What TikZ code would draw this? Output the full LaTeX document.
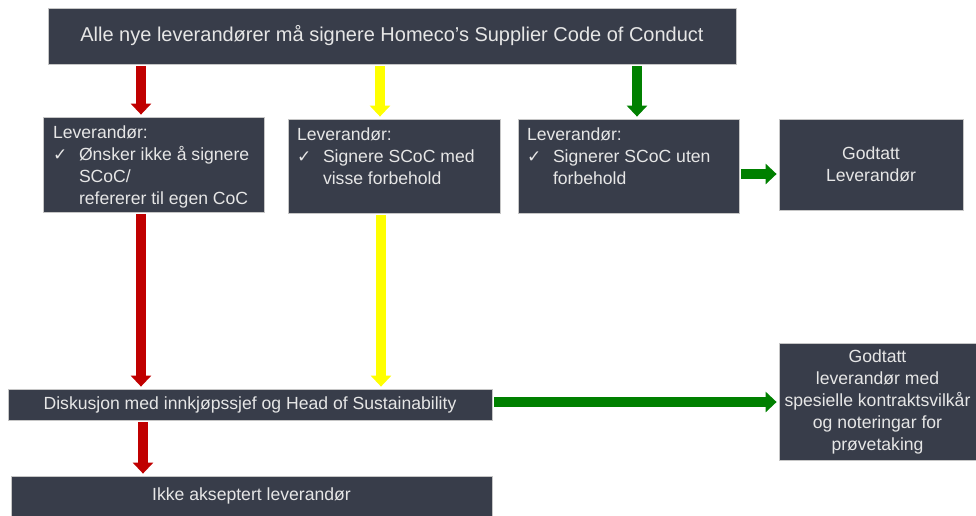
\documentclass[tikz,border=0pt]{standalone}
\usepackage{fontspec}
\setmainfont{Liberation Sans}
\newfontfamily\checkfont{DejaVu Sans}
\usetikzlibrary{arrows.meta,positioning}
\definecolor{boxfill}{RGB}{56,61,74}
\definecolor{boxtext}{RGB}{230,230,230}
\definecolor{redarrow}{RGB}{192,0,0}
\definecolor{yellowarrow}{RGB}{255,255,0}
\definecolor{greenarrow}{RGB}{0,128,0}
\newcommand{\chk}{\makebox[26pt][l]{\checkfont\fontsize{17}{22}\selectfont ✓}}
\newcommand{\ind}{\hspace*{26pt}}
\begin{document}
\begin{tikzpicture}[x=1pt,y=-1pt,
  box/.style={draw=gray!45, line width=0.8pt, fill=boxfill, text=boxtext,
    font=\fontsize{17.6}{22}\selectfont, inner sep=0pt, align=center},
  flow/.style={line width=10pt, shorten <=2pt, shorten >=2pt,
    -{Triangle[width=20pt,length=11pt]}}]
\useasboundingbox (0,0) rectangle (976,515);
% boxes
\node(top) at (392,36) [box, minimum width=688pt, minimum height=56pt,
  font=\fontsize{20}{24}\selectfont]{Alle nye leverandører må signere Homeco’s Supplier Code of Conduct};
\node(b1) at (153.5,164.5) [box, inner xsep=10pt, inner ysep=9pt]{\parbox[t][77pt][t]{201pt}{\raggedright
  Leverandør:\\ \chk Ønsker ikke å signere\\ \ind SCoC/\\ \ind refererer til egen CoC}};
\node(b2) at (394,166) [box, inner xsep=9pt, inner ysep=9pt]{\parbox[t][76pt][t]{194pt}{\raggedright
  Leverandør:\\ \chk Signere SCoC med\\ \ind visse forbehold}};
\node(b3) at (628.5,166) [box, inner xsep=9pt, inner ysep=9pt]{\parbox[t][76pt][t]{203pt}{\raggedright
  Leverandør:\\ \chk Signerer SCoC uten\\ \ind forbehold}};
\node(ok) at (871,164.5) [box, minimum width=184pt, minimum height=91pt]{Godtatt\\Leverandør};
\node(disk) at (250,404.5) [box, minimum width=484pt, minimum height=31pt]{Diskusjon med innkjøpssjef og Head of Sustainability};
\node(okspec) at (877.5,401.5) [box, minimum width=197pt, minimum height=117pt]{Godtatt\\leverandør med\\spesielle kontraktsvilkår\\og noteringar for\\prøvetaking};
\node(nok) at (251.5,496) [box, minimum width=481pt, minimum height=40pt]{Ikke akseptert leverandør};
% arrows
\draw[flow, redarrow] ([xshift=-12.5pt]top.south -| b1.north) -- ([xshift=-12.5pt]b1.north);
\draw[flow, yellowarrow] ([xshift=-14pt]top.south -| b2.north) -- ([xshift=-14pt]b2.north);
\draw[flow, greenarrow] ([xshift=8.5pt]top.south -| b3.north) -- ([xshift=8.5pt]b3.north);
\draw[flow, greenarrow] ([yshift=-8pt]b3.east) -- ([yshift=-8pt]b3.east -| ok.west);
\draw[flow, redarrow] ([xshift=-12.5pt]b1.south) -- ([xshift=-12.5pt]b1.south |- disk.north);
\draw[flow, yellowarrow] ([xshift=-13pt]b2.south) -- ([xshift=-13pt]b2.south |- disk.north);
\draw[flow, greenarrow] ([yshift=2.5pt]disk.east) -- ([yshift=2.5pt]disk.east -| okspec.west);
\draw[flow, redarrow] ([xshift=-107pt]disk.south) -- ([xshift=-107pt]disk.south |- nok.north);
\end{tikzpicture}
\end{document}
